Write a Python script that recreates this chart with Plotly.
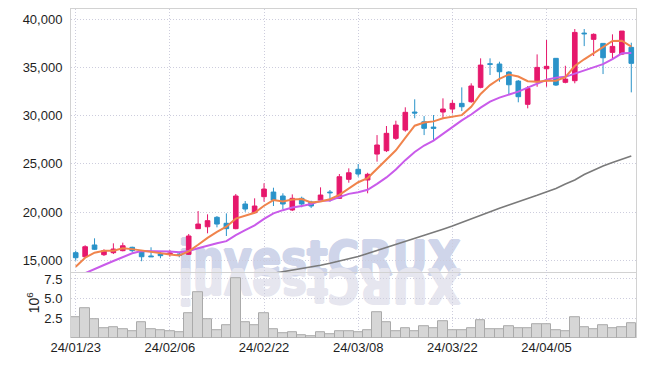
import plotly.graph_objects as go
from plotly.subplots import make_subplots

dates = ["24/01/23","24/01/24","24/01/25","24/01/26","24/01/29","24/01/30","24/01/31","24/02/01","24/02/02","24/02/05",
         "24/02/06","24/02/07","24/02/08","24/02/13","24/02/14","24/02/15","24/02/16","24/02/19","24/02/20","24/02/21",
         "24/02/22","24/02/23","24/02/26","24/02/27","24/02/28","24/02/29","24/03/04","24/03/05","24/03/06","24/03/07",
         "24/03/08","24/03/11","24/03/12","24/03/13","24/03/14","24/03/15","24/03/18","24/03/19","24/03/20","24/03/21",
         "24/03/22","24/03/25","24/03/26","24/03/27","24/03/28","24/03/29","24/04/01","24/04/02","24/04/03","24/04/04",
         "24/04/05","24/04/08","24/04/09","24/04/11","24/04/12","24/04/15","24/04/16","24/04/17","24/04/18","24/04/19"]

open_ = [15790,15370,16590,15580,15790,16000,16350,15860,15450,15650,
         15620,15650,15620,18280,18480,19460,18840,18280,20840,19940,
         21600,22080,21670,20220,21430,21050,21250,22080,21430,23400,
         24440,23330,26020,26370,27650,28510,30380,29370,28820,30380,
         30690,31280,31450,32940,35390,35360,34530,33590,31180,33520,
         34870,35950,33460,33630,38570,37920,37500,36570,36390,37090]
high = [16000,16560,17280,16140,16760,16830,16410,16070,16350,15890,
        16070,15890,17730,20110,19770,19590,19870,21880,21150,21430,
        22990,22530,21950,21840,21600,21180,22570,22290,23950,24540,
        24990,24080,27990,28930,29480,30870,31700,29960,30070,31800,
        31620,32940,33360,35950,35950,35600,34630,33700,33080,36360,
        37850,35980,35180,38990,38990,38540,37530,38440,38780,37570]
low = [14960,15310,16070,15450,15650,15930,15860,14900,15370,15210,
       15370,15310,15550,18250,17800,18420,17520,18220,20040,19870,
       21080,20630,20290,20110,20500,20420,21080,21080,21390,23050,
       23670,21950,25230,26230,27480,28340,29730,27990,27480,29650,
       30240,30480,31340,32840,34220,33520,32210,31390,30760,33000,
       33000,33080,33360,33360,37220,36190,34320,35880,36290,32420]
close = [15270,16410,16140,16000,16170,16510,16000,15370,15370,15480,
         15760,15520,17520,18760,19110,18760,18280,21670,20320,20630,
         22390,21250,20840,21430,20840,20630,21770,22010,23670,24080,
         23950,23920,26960,28170,29030,30350,30280,28690,28690,30690,
         31280,30930,33080,35250,35330,34560,33210,31970,32840,35010,
         35120,33180,33800,38640,38500,38440,36010,37190,38780,35430]

ma5 = [14340,15270,15790,16000,16000,16250,16160,16010,15890,15750,
       15600,15500,15930,16610,17330,17940,18490,19320,19630,19930,
       20660,21250,21090,21310,21350,21000,21100,21340,21780,22430,
       23100,23530,24520,25420,26410,27690,28960,29300,29410,29740,
       29920,30060,30930,32250,33170,33830,34280,34060,33580,33520,
       33630,33620,33990,35150,35850,36510,37080,37760,37780,37170]
ma10 = [13240,13640,14070,14510,14930,15310,15730,15960,15950,15870,
        15920,15830,15970,16250,16540,16770,16990,17620,18120,18630,
        19300,19870,20200,20470,20640,20830,21180,21210,21550,21890,
        22050,22310,22930,23600,24420,25390,26240,26910,27410,28070,
        28810,29510,30120,30830,31460,31880,32170,32500,32910,33350,
        33730,33950,34030,34370,34680,35070,35350,35870,36470,36510]
ma60 = [None,None,None,None,None,None,None,None,None,None,
        None,None,None,None,None,None,None,None,None,None,
        None,13650,13810,13960,14130,14310,14490,14690,14910,15140,
        15390,15710,16020,16350,16690,17000,17280,17540,17870,18230,
        18560,18940,19310,19700,20060,20390,20730,21100,21410,21740,
        22080,22450,22910,23330,23900,24360,24780,25140,25510,25820]

volume = [2.63,3.78,2.37,1.22,1.35,1.09,0.87,1.99,1.09,0.96,
          0.87,0.74,3.14,5.83,2.37,0.96,1.60,7.63,2.03,1.64,
          3.14,1.09,0.62,0.74,0.32,0.19,0.71,0.45,0.87,0.87,
          0.78,1.00,3.27,2.03,0.87,1.22,0.87,1.47,1.22,2.12,
          0.96,0.96,1.22,2.24,1.09,1.09,1.47,1.22,1.22,1.77,
          1.77,0.96,0.87,2.63,1.35,1.09,1.60,1.22,1.35,1.86]

tick_dates = ["24/01/23","24/02/06","24/02/22","24/03/08","24/03/22","24/04/05"]
price_ticks = [15000,20000,25000,30000,35000,40000]
vol_ticks = [2.5,5.0,7.5]

FONT = "Liberation Sans, Arial, sans-serif"
WMFONT = "DejaVu Sans Condensed, DejaVu Sans, sans-serif"
RED = "#E6186C"
BLUE = "#2A93C9"
GRID = "#cdcddd"
GDASH = "1px,2px"
FRAME = "#d2d2d2"
TXT = "#1e1e1e"
WM_MAIN = "#cfd5ea"
WM_REFL = "#e6e6ef"


def fat(c):
    return "1px 0 0 {0}, -1px 0 0 {0}, 0 1px 0 {0}, 0 -1px 0 {0}".format(c)


fig = make_subplots(rows=2, cols=1, shared_xaxes=True, vertical_spacing=0,
                    row_heights=[0.8, 0.2])

fig.add_trace(go.Candlestick(
    x=dates, open=open_, high=high, low=low, close=close,
    increasing=dict(line=dict(color=RED, width=1), fillcolor=RED),
    decreasing=dict(line=dict(color=BLUE, width=1), fillcolor=BLUE),
    whiskerwidth=0, showlegend=False), row=1, col=1)

fig.add_trace(go.Scatter(x=dates, y=ma60, mode="lines",
                         line=dict(color="#7a7a7a", width=1.6), showlegend=False), row=1, col=1)
fig.add_trace(go.Scatter(x=dates, y=ma10, mode="lines",
                         line=dict(color="#C95BEA", width=2), showlegend=False), row=1, col=1)
fig.add_trace(go.Scatter(x=dates, y=ma5, mode="lines",
                         line=dict(color="#F0844C", width=2), showlegend=False), row=1, col=1)

fig.add_trace(go.Bar(x=dates, y=volume, marker=dict(color="#d6d6d6",
                     line=dict(color="#aaaaaa", width=1)), showlegend=False), row=2, col=1)

axis_common = dict(type="category", categoryorder="array", categoryarray=dates,
                   range=[-0.5, len(dates) - 0.5], tickmode="array", tickvals=tick_dates,
                   showgrid=True, gridcolor=GRID, griddash=GDASH, gridwidth=1,
                   zeroline=False, fixedrange=True)

fig.update_xaxes(**axis_common)
fig.update_xaxes(row=1, col=1, showticklabels=False, rangeslider_visible=False,
                 showline=True, mirror=True, linecolor=FRAME, linewidth=1)
fig.update_xaxes(row=2, col=1, showticklabels=True, ticktext=tick_dates, ticks="",
                 ticklabelstandoff=0, showline=False,
                 tickfont=dict(family=FONT, size=13, color=TXT))

fig.update_yaxes(row=1, col=1, range=[13766, 41068], tickmode="array", tickvals=price_ticks,
                 tickformat=",d", showgrid=True, gridcolor=GRID, griddash=GDASH, gridwidth=1,
                 zeroline=False, showline=True, mirror=True, linecolor=FRAME, linewidth=1,
                 ticks="", ticklabelstandoff=5, automargin=False,
                 tickfont=dict(family=FONT, size=13, color=TXT))
fig.update_yaxes(row=2, col=1, range=[0, 8.36], tickmode="array", tickvals=vol_ticks,
                 tickformat=".1f", showgrid=True, gridcolor=GRID, griddash=GDASH, gridwidth=1,
                 zeroline=False, showline=True, mirror=True, linecolor=FRAME, linewidth=1,
                 ticks="", ticklabelstandoff=5, automargin=False,
                 tickfont=dict(family=FONT, size=13, color=TXT))

wm = "investCRUX"
fig.add_shape(type="rect", xref="paper", yref="paper", x0=0.24, x1=0.64, y0=0.2026, y1=0.3026,
              line=dict(width=0), fillcolor="rgba(0,0,0,0)", layer="below",
              label=dict(text="<b>" + wm + "</b>", textposition="middle center", padding=0,
                         font=dict(family=WMFONT, size=48, color=WM_MAIN, weight="bold",
                                   shadow=fat(WM_MAIN))))
fig.add_shape(type="rect", xref="paper", yref="paper", x0=0.24, x1=0.64, y0=0.0986, y1=0.1986,
              line=dict(width=0), fillcolor="rgba(0,0,0,0)", layer="below",
              label=dict(text="<b>" + wm[::-1] + "</b>", textposition="middle center", padding=0,
                         textangle=180,
                         font=dict(family=WMFONT, size=48, color=WM_REFL, weight="bold",
                                   shadow=fat(WM_REFL))))

fig.add_annotation(xref="paper", yref="paper", x=-0.067, y=0.109, text="10<sup>6</sup>",
                   textangle=-90, showarrow=False, xanchor="center", yanchor="middle",
                   font=dict(family=FONT, size=14, color=TXT))

fig.update_layout(width=637, height=358, margin=dict(l=63, r=9, t=1, b=28, autoexpand=False),
                  paper_bgcolor="white", plot_bgcolor="rgba(0,0,0,0)",
                  bargap=0, hovermode=False, showlegend=False)

fig.write_html("out.html")
